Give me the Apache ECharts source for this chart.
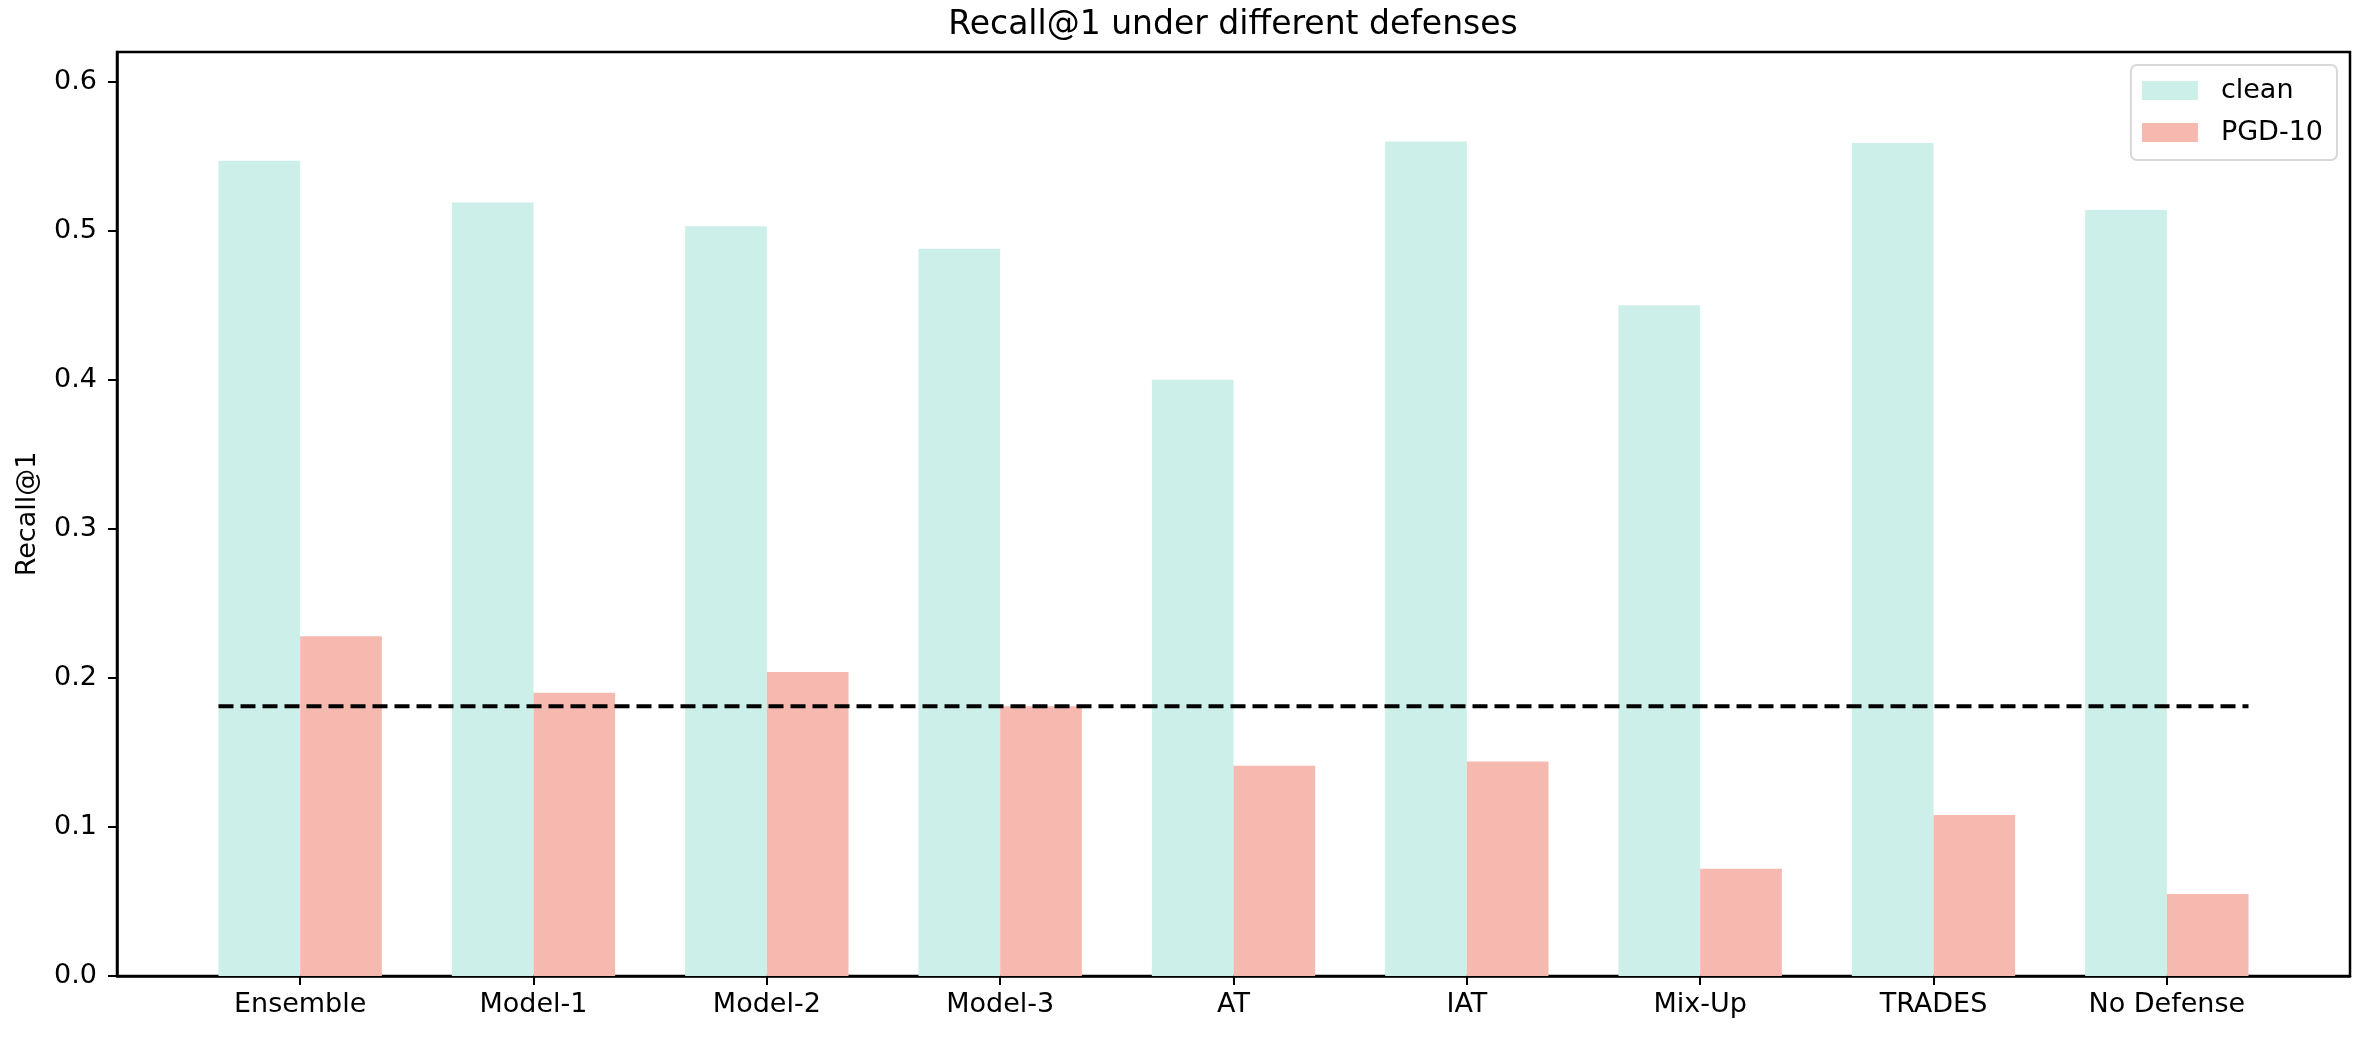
<!DOCTYPE html>
<html>
<head>
<meta charset="utf-8">
<script src="https://cdn.jsdelivr.net/npm/echarts@6/dist/echarts.min.js"></script>
<style>
html,body{margin:0;padding:0;background:#fff;}
#chart{width:2378px;height:1040px;}
</style>
</head>
<body>
<div id="chart"></div>
<script>
// ---- data ----
const categories = ['Ensemble', 'Model-1', 'Model-2', 'Model-3', 'AT', 'IAT', 'Mix-Up', 'TRADES', 'No Defense'];
const cleanValues = [0.547, 0.519, 0.503, 0.488, 0.400, 0.560, 0.450, 0.559, 0.514];
const pgdValues   = [0.228, 0.190, 0.204, 0.181, 0.141, 0.144, 0.072, 0.108, 0.055];
const baselineValue = 0.181;
const baselineX = [-0.35, 8.35];
const yTicks = [0, 0.1, 0.2, 0.3, 0.4, 0.5, 0.6];

const positions = categories.map((c, i) => i);
const font = 'DejaVu Sans';

const chart = echarts.init(document.getElementById('chart'), null, {renderer: 'canvas'});
chart.setOption({
  backgroundColor: '#ffffff',
  animation: false,
  title: {
    text: 'Recall@1 under different defenses',
    left: 1233, top: 9, padding: 0, textAlign: 'center',
    textStyle: {fontFamily: font, fontSize: 33, fontWeight: 'normal', color: '#000'}
  },
  legend: {
    orient: 'vertical', right: 41, top: 65,
    icon: 'rect', itemWidth: 56, itemHeight: 19, itemGap: 15,
    padding: [12, 14, 14, 11],
    borderColor: '#d8d8d8', borderWidth: 2, borderRadius: 6,
    backgroundColor: 'rgba(255,255,255,0.8)',
    textStyle: {fontFamily: font, fontSize: 27, color: '#000', padding: [0, 0, 0, 18]},
    data: ['clean', 'PGD-10']
  },
  grid: {
    left: 117, right: 28, top: 52, bottom: 64,
    show: true, borderColor: '#000', borderWidth: 2.5, backgroundColor: 'transparent',
    containLabel: false
  },
  xAxis: {
    type: 'value', min: -0.785, max: 8.785,
    splitLine: {show: false},
    axisLine: {show: true, onZero: false, lineStyle: {color: '#000', width: 2.5}},
    axisTick: {show: true, inside: false, length: 9, lineStyle: {color: '#000', width: 2}, customValues: positions},
    axisLabel: {
      customValues: positions, margin: 15,
      fontFamily: font, fontSize: 27, color: '#000',
      formatter: v => categories[Math.round(v)]
    }
  },
  yAxis: {
    type: 'value', min: 0, max: 0.62,
    name: 'Recall@1', nameLocation: 'middle', nameRotate: 90, nameGap: 76,
    nameTextStyle: {fontFamily: font, fontSize: 27, color: '#000'},
    splitLine: {show: false},
    axisLine: {show: true, onZero: false, lineStyle: {color: '#000', width: 2.5}},
    axisTick: {show: true, inside: false, length: 9, lineStyle: {color: '#000', width: 2}, customValues: yTicks},
    axisLabel: {
      customValues: yTicks, margin: 20,
      fontFamily: font, fontSize: 27, color: '#000',
      formatter: v => v.toFixed(1)
    }
  },
  series: [
    {
      name: 'clean', type: 'bar', barWidth: '35%', barGap: '0%',
      itemStyle: {color: '#CCF0E9'},
      data: positions.map(i => [i, cleanValues[i]])
    },
    {
      name: 'PGD-10', type: 'bar', barWidth: '35%', barGap: '0%',
      itemStyle: {color: '#F6B9B0'},
      data: positions.map(i => [i, pgdValues[i]])
    },
    {
      name: 'baseline', type: 'line', symbol: 'none', z: 5,
      lineStyle: {color: '#000', width: 4, type: [15, 7]},
      data: baselineX.map(x => [x, baselineValue])
    }
  ]
});
</script>
</body>
</html>
